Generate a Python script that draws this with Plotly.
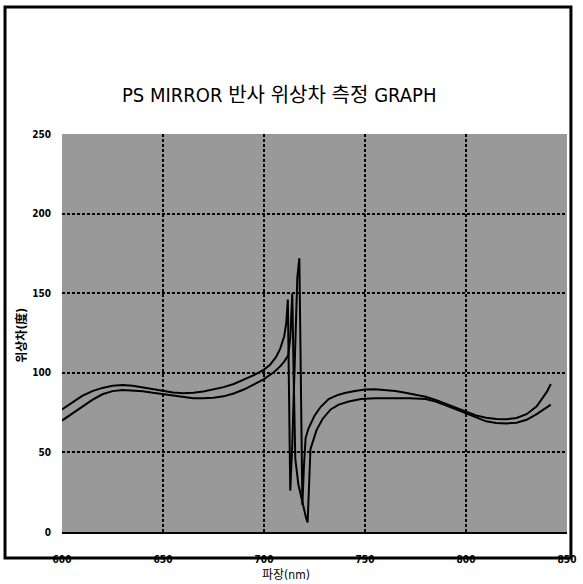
import plotly.graph_objects as go

# ---- data ----
wl_a = [600, 605, 610, 615, 620, 625, 630, 635, 640, 645, 650, 655, 660, 665, 670, 675,
        680, 685, 690, 695, 700, 703, 706, 708, 710, 711, 711.8, 712.4, 713.0, 714.0,
        716.5, 717.5, 718.3, 719.0, 719.8, 720.6, 722, 725, 728, 732, 736, 740, 745, 750,
        755, 760, 765, 770, 775, 780, 785, 790, 795, 800, 805, 810, 815, 820, 825, 830,
        835, 840, 842]
phase_a = [77, 81.5, 85.5, 88.5, 90.5, 91.8, 92.4, 91.8, 90.7, 89.6, 88.6, 87.6, 87.2, 87.5,
           88.3, 89.5, 91, 93, 95.5, 98.5, 102, 105, 110, 115, 123, 131, 146, 85, 26, 55,
           160, 172, 95, 17, 42, 59, 65, 73, 78.5, 83.5, 85.8, 87.3, 88.6, 89.5, 89.6, 89.2,
           88.5, 87.5, 86.3, 85, 83, 80.5, 77.8, 75.2, 73.2, 71.8, 71, 70.8, 71.6, 74, 79,
           88, 93]

wl_b = [600, 605, 610, 615, 620, 625, 630, 635, 640, 645, 650, 655, 660, 665, 670, 675,
        680, 685, 690, 695, 700, 705, 708, 710, 712, 713, 714, 714.8, 715.5, 717, 719,
        720.8, 721.6, 722.2, 723, 726, 729, 733, 737, 742, 748, 755, 764, 772, 780, 785,
        790, 795, 800, 805, 810, 815, 820, 825, 830, 835, 840, 842]
phase_b = [70, 74.5, 79, 83, 86.5, 88.5, 89.2, 89, 88.4, 87.4, 86.5, 85.5, 84.6, 84, 84,
           84.3, 85.2, 87, 89.5, 92.5, 96, 100.5, 104, 107, 111, 122, 150, 90, 46, 30, 18,
           9, 6, 25, 52, 64, 71, 77, 80, 82, 83.5, 84, 84, 84, 83.5, 82, 79.5, 77, 74, 71.5,
           69.5, 68.5, 68.2, 68.6, 70.5, 74, 78, 80]

x_ticks = [600, 650, 700, 750, 800, 850]
y_ticks = [0, 50, 100, 150, 200, 250]

title_text = "PS MIRROR 반사 위상차 측정 GRAPH"
x_title = "파장(nm)"
y_title = "위상차(度)"

# ---- layout geometry (pixels) ----
W, H = 583, 584
L, R, T, B = 62, 576, 134, 532

def px(x):
    return (x - L) / (R - L)

def py(y):
    return (B - y) / (B - T)

narrow = "DejaVu Sans Condensed, Noto Sans CJK KR, sans-serif"

fig = go.Figure()
for xs, ys in ((wl_a, phase_a), (wl_b, phase_b)):
    fig.add_trace(go.Scatter(x=xs, y=ys, mode="lines",
                             line=dict(color="black", width=2),
                             showlegend=False, hoverinfo="skip"))

fig.update_layout(
    width=W, height=H,
    margin=dict(l=L, r=W - R, t=T, b=H - B),
    paper_bgcolor="white",
    plot_bgcolor="#999999",
    showlegend=False,
    font=dict(family=narrow, color="black"),
)

fig.update_xaxes(
    range=[600, 850], tickvals=x_ticks, ticktext=[str(v) for v in x_ticks],
    showgrid=True, gridcolor="black", gridwidth=2, griddash="3px,2px",
    zeroline=False, showline=True, linecolor="black", linewidth=2,
    ticks="", ticklabelstandoff=17, ticklabeloverflow="allow",
    tickfont=dict(size=10, family=narrow, weight="bold"),
)
fig.update_yaxes(
    range=[0, 250], tickvals=y_ticks, ticktext=[str(v) for v in y_ticks],
    showgrid=True, gridcolor="black", gridwidth=2, griddash="3px,2px",
    zeroline=False, showline=False,
    ticks="", ticklabelstandoff=10,
    tickfont=dict(size=10, family=narrow, weight="bold"),
)

# outer frame
fig.add_shape(type="rect", xref="paper", yref="paper",
              x0=px(4), x1=px(580), y0=py(558), y1=py(7),
              line=dict(color="black", width=3), fillcolor="rgba(0,0,0,0)", layer="below")

# title and axis titles as annotations
fig.add_annotation(text=title_text, xref="paper", yref="paper",
                   x=px(283), y=py(95), xanchor="center", yanchor="middle", showarrow=False,
                   font=dict(size=20, family=narrow, color="black"))
fig.add_annotation(text=x_title, xref="paper", yref="paper",
                   x=px(290), y=py(575), xanchor="center", yanchor="middle", showarrow=False,
                   font=dict(size=12, family=narrow, color="black"))
fig.add_annotation(text=y_title, xref="paper", yref="paper",
                   x=px(20), y=py(335), xanchor="center", yanchor="middle", showarrow=False,
                   textangle=-90,
                   font=dict(size=12, family=narrow, color="black", weight="bold"))

fig.write_html("out.html", config={"displayModeBar": False},
               post_script="document.body.style.margin='0';")
